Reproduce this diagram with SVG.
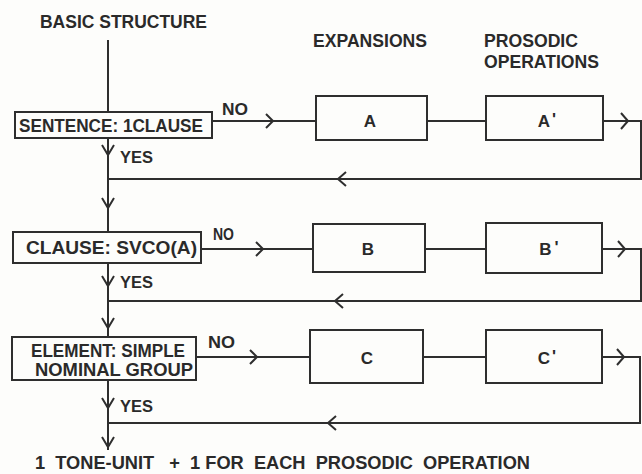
<svg xmlns="http://www.w3.org/2000/svg" width="642" height="474" viewBox="0 0 642 474">
<style>
  .bg{fill:#fdfdfb}
  .box{fill:none;stroke:#2e2e2e;stroke-width:2}
  .ln{fill:none;stroke:#2e2e2e;stroke-width:2;stroke-linejoin:miter}
  .t{font-family:"Liberation Sans",Arial,sans-serif;font-weight:bold;fill:#2a2a2a;font-size:18px}
  .s{font-size:17px}
  .l{font-size:17px}
  .c{text-anchor:middle}
  .p{font-size:17px;font-weight:bold}
</style>
<rect class="bg" x="0" y="0" width="642" height="474"/>

<g id="headers">
  <text class="t" x="40" y="28" textLength="167" lengthAdjust="spacingAndGlyphs">BASIC STRUCTURE</text>
  <text class="t" x="313" y="47" textLength="114" lengthAdjust="spacingAndGlyphs">EXPANSIONS</text>
  <text class="t" x="484" y="47" textLength="94" lengthAdjust="spacingAndGlyphs">PROSODIC</text>
  <text class="t" x="484" y="68" textLength="115" lengthAdjust="spacingAndGlyphs">OPERATIONS</text>
</g>

<g id="connectors">
  <!-- main spine -->
  <path class="ln" d="M108 40V112M108 138V232M108 263V337M108 380V450"/>
  <!-- down chevrons on spine -->
  <path class="ln" d="M102 145L108 155L114 145M102 198L108 208L114 198M102 276L108 286L114 276M102 318L108 328L114 318M102 398L108 408L114 398M102 437L108 447L114 437"/>
  <!-- row 1 -->
  <path class="ln" d="M212 121H316M427 121H486M603 121H641V179H108"/>
  <path class="ln" d="M266 114L273 121L266 128M621 113L628 121L621 129M346 172L338 179L346 186"/>
  <!-- row 2 -->
  <path class="ln" d="M201 249H313M425 249H486M602 249H641V301H108"/>
  <path class="ln" d="M256 242L263 249L256 256M618 241L625 249L618 257M343 294L335 301L343 308"/>
  <!-- row 3 -->
  <path class="ln" d="M196 357H310M423 357H486M602 357H640V423H108"/>
  <path class="ln" d="M250 350L257 357L250 364M617 349L624 357L617 365M336 416L328 423L336 430"/>
  <text class="t s" x="222" y="115" textLength="26" lengthAdjust="spacingAndGlyphs">NO</text>
  <text class="t s" x="213" y="240" textLength="21" lengthAdjust="spacingAndGlyphs">NO</text>
  <text class="t s" x="208" y="348" textLength="27" lengthAdjust="spacingAndGlyphs">NO</text>
  <text class="t s" x="120" y="163" textLength="33" lengthAdjust="spacingAndGlyphs">YES</text>
  <text class="t s" x="120" y="288" textLength="33" lengthAdjust="spacingAndGlyphs">YES</text>
  <text class="t s" x="120" y="412" textLength="33" lengthAdjust="spacingAndGlyphs">YES</text>
</g>

<g id="sentence">
  <rect class="box" x="15" y="112" width="197" height="26"/>
  <text class="t" x="19" y="132" textLength="184" lengthAdjust="spacingAndGlyphs">SENTENCE: 1CLAUSE</text>
</g>
<g id="clause">
  <rect class="box" x="13" y="232" width="188" height="31"/>
  <text class="t" x="26" y="254" textLength="171" lengthAdjust="spacingAndGlyphs">CLAUSE:  SVCO(A)</text>
</g>
<g id="element">
  <rect class="box" x="12" y="337" width="184" height="43"/>
  <text class="t" x="31" y="357" textLength="154" lengthAdjust="spacingAndGlyphs">ELEMENT: SIMPLE</text>
  <text class="t" x="35" y="376" textLength="158" lengthAdjust="spacingAndGlyphs">NOMINAL GROUP</text>
</g>

<g id="A">
  <rect class="box" x="316" y="96" width="111" height="44"/>
  <text class="t l c" x="370" y="127">A</text>
</g>
<g id="A1">
  <rect class="box" x="486" y="96" width="117" height="44"/>
  <text class="t l c" x="547" y="127">A<tspan class="p" dx="2" dy="-2">'</tspan></text>
</g>
<g id="B">
  <rect class="box" x="313" y="224" width="112" height="48"/>
  <text class="t l c" x="368" y="255">B</text>
</g>
<g id="B1">
  <rect class="box" x="486" y="223" width="116" height="50"/>
  <text class="t l c" x="549" y="255">B<tspan class="p" dx="3" dy="-2">'</tspan></text>
</g>
<g id="C">
  <rect class="box" x="310" y="330" width="113" height="53"/>
  <text class="t l c" x="367" y="364">C</text>
</g>
<g id="C1">
  <rect class="box" x="486" y="330" width="116" height="53"/>
  <text class="t l c" x="547" y="364">C<tspan class="p" dx="2" dy="-2">'</tspan></text>
</g>

<g id="result">
  <text class="t" x="35" y="469" textLength="495" lengthAdjust="spacingAndGlyphs" xml:space="preserve">1  TONE-UNIT   +  1 FOR  EACH  PROSODIC  OPERATION</text>
</g>
</svg>
